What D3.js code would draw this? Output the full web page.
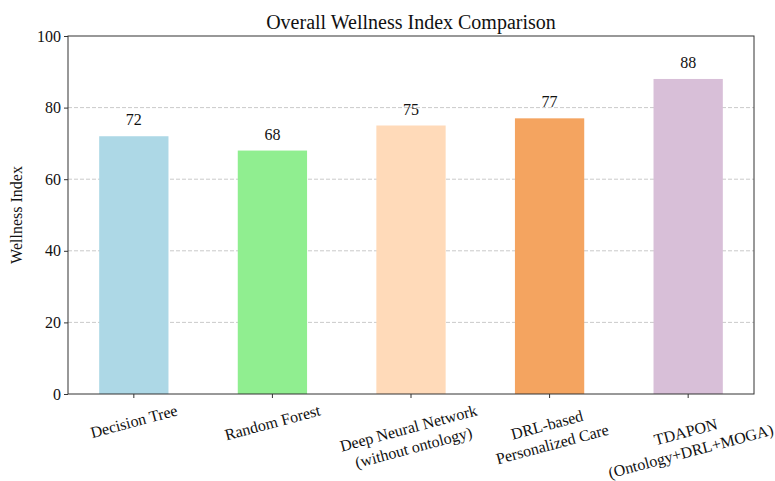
<!DOCTYPE html>
<html><head><meta charset="utf-8">
<script src="https://cdn.jsdelivr.net/npm/d3@7"></script>
<style>body{margin:0;background:#fff}svg{display:block}text{font-family:"Liberation Serif","Times New Roman",serif;fill:#111}</style>
</head><body><svg id="c" width="775" height="481"></svg>
<script>
const categories = [["Decision Tree"],["Random Forest"],["Deep Neural Network","(without ontology)"],["DRL-based","Personalized Care"],["TDAPON","(Ontology+DRL+MOGA)"]];
const values = [72, 68, 75, 77, 88];
const colors = ["#ADD8E6", "#90EE90", "#FFDAB9", "#F4A460", "#D8BFD8"];
const yTicks = [0, 20, 40, 60, 80, 100];
const title = "Overall Wellness Index Comparison";
const yLabel = "Wellness Index";

const svg = d3.select("#c");
const L = 68, R = 754, T = 36, B = 394;
const x = d3.scaleLinear().domain([-0.475, 4.475]).range([L, R]);
const y = d3.scaleLinear().domain([0, 100]).range([B, T]);
const bw = 0.5;

// grid
svg.append("g").selectAll("line").data(yTicks.filter(d => d > 0 && d < 100)).join("line")
  .attr("x1", L).attr("x2", R).attr("y1", d => y(d)).attr("y2", d => y(d))
  .attr("stroke", "#c4c4c4").attr("stroke-width", 0.9).attr("stroke-dasharray", "4,2");

// bars
svg.append("g").selectAll("rect").data(values).join("rect")
  .attr("x", (d, i) => x(i - bw / 2)).attr("width", (d, i) => x(i + bw / 2) - x(i - bw / 2))
  .attr("y", d => y(d)).attr("height", d => B - y(d))
  .attr("fill", (d, i) => colors[i]);

// value labels
svg.append("g").selectAll("text").data(values).join("text")
  .attr("x", (d, i) => x(i)).attr("y", d => y(d) - 11)
  .attr("text-anchor", "middle").attr("font-size", 16).text(d => d);

// frame
svg.append("rect").attr("x", L).attr("y", T).attr("width", R - L).attr("height", B - T)
  .attr("fill", "none").attr("stroke", "#333").attr("stroke-width", 1);

// y axis
const ya = svg.append("g").attr("transform", `translate(${L},0)`)
  .call(d3.axisLeft(y).tickValues(yTicks).tickSize(4).tickPadding(3));
ya.select(".domain").remove();
ya.selectAll("line").attr("stroke", "#333");
ya.selectAll("text").attr("font-size", 16).attr("fill", "#111").style("font-family", '"Liberation Serif",serif');

// x ticks
svg.append("g").selectAll("line").data(values).join("line")
  .attr("x1", (d, i) => x(i)).attr("x2", (d, i) => x(i)).attr("y1", B).attr("y2", B + 4)
  .attr("stroke", "#333");

// x labels rotated
const fs = 16, lh = fs * 1.25, ang = 15 * Math.PI / 180;
categories.forEach((lines, i) => {
  const g = svg.append("g");
  const t = g.append("text").attr("text-anchor", "middle").attr("font-size", fs);
  lines.forEach((s, j) => t.append("tspan").attr("x", 0).attr("y", (j - (lines.length - 1) / 2) * lh + fs * 0.35).text(s));
  let maxW = 0;
  t.selectAll("tspan").each(function () { maxW = Math.max(maxW, this.getComputedTextLength()); });
  const hB = lines.length * lh * Math.cos(ang) + maxW * Math.sin(ang);
  const top = B + 6;
  g.attr("transform", `translate(${x(i)},${top + hB / 2}) rotate(-15)`);
});

// title
svg.append("text").attr("x", (L + R) / 2).attr("y", 29).attr("text-anchor", "middle")
  .attr("font-size", 20).text(title);

// y label
svg.append("text").attr("transform", `translate(22,${(T + B) / 2}) rotate(-90)`)
  .attr("text-anchor", "middle").attr("font-size", 16).text(yLabel);
</script></body></html>
